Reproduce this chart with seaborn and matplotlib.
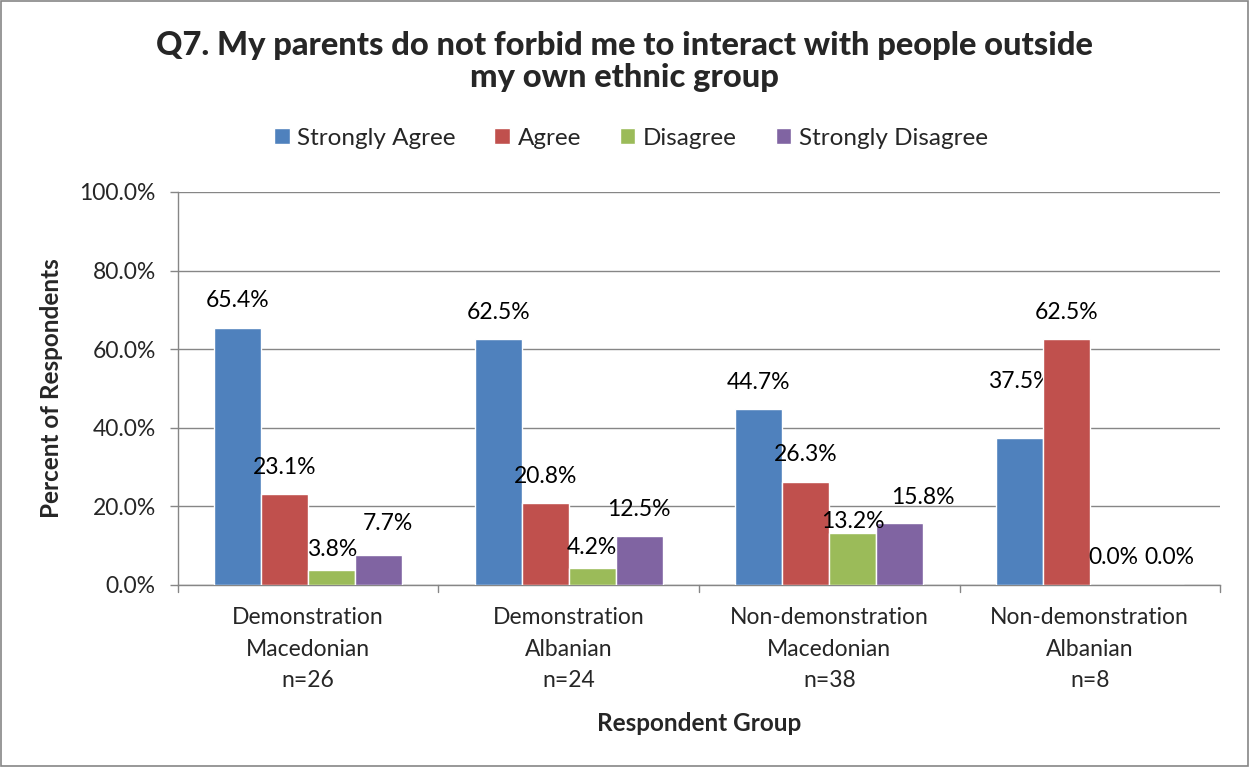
import matplotlib
matplotlib.use("Agg")
import matplotlib.pyplot as plt
import seaborn as sns
import pandas as pd
from matplotlib.patches import Rectangle

groups = ["Demonstration\nMacedonian\nn=26", "Demonstration\nAlbanian\nn=24",
          "Non-demonstration\nMacedonian\nn=38", "Non-demonstration\nAlbanian\nn=8"]
responses = ["Strongly Agree", "Agree", "Disagree", "Strongly Disagree"]
strongly_agree = [65.4, 62.5, 44.7, 37.5]
agree = [23.1, 20.8, 26.3, 62.5]
disagree = [3.8, 4.2, 13.2, 0.0]
strongly_disagree = [7.7, 12.5, 15.8, 0.0]
colors = ["#4F81BD", "#C0504D", "#9BBB59", "#8064A2"]

series = [strongly_agree, agree, disagree, strongly_disagree]
rows = []
for r, vals in zip(responses, series):
    for g, v in zip(groups, vals):
        rows.append({"Group": g, "Response": r, "Value": v})
df = pd.DataFrame(rows)

sns.set_theme(style="white")
plt.rcParams["font.family"] = ["Lato", "DejaVu Sans"]

fig = plt.figure(figsize=(12.49, 7.67), dpi=100)
ax = fig.add_axes([0.1425, 0.2373, 0.8343, 0.5124])

sns.barplot(data=df, x="Group", y="Value", hue="Response", order=groups,
            hue_order=responses, palette=colors, width=0.72, gap=0,
            saturation=1, ax=ax, legend=True, errorbar=None, zorder=3)

# label offsets in pixels (dx, dy above bar top)
adj = {(0, 2): (0, 21), (0, 3): (9, 31), (1, 2): (0, 21), (1, 3): (0, 26),
       (2, 2): (0, 12), (2, 3): (23, 25), (3, 0): (0, 56), (3, 3): (9, 27)}
for hi, cont in enumerate(ax.containers):
    for gi, bar in enumerate(cont):
        v = series[hi][gi]
        dx, dy = adj.get((gi, hi), (0, 27))
        z = 2.5 if (gi, hi) == (3, 0) else 5
        ax.annotate(f"{v:.1f}%", (bar.get_x() + bar.get_width() / 2, v),
                    xytext=(dx * 0.72, dy * 0.72), textcoords="offset points",
                    ha="center", va="center", fontsize=16.5, color="#000000", zorder=z)

ax.set_ylim(0, 100)
ax.set_xlim(-0.5, 3.5)
ax.set_yticks([0, 20, 40, 60, 80, 100])
ax.set_yticklabels([f"{t:.1f}%" for t in [0, 20, 40, 60, 80, 100]], fontsize=16.5)
ax.tick_params(axis="x", labelsize=16.5, length=0, pad=16)
ax.tick_params(axis="y", length=6, width=1, color="#868686", left=True, pad=10)
ax.set_xticks(range(4))
ax.set_xticklabels(groups, linespacing=1.62)
for xb in [-0.5, 0.5, 1.5, 2.5, 3.5]:
    ax.plot([xb, xb], [0, -1.8], color="#868686", lw=1, clip_on=False, zorder=4)
ax.grid(axis="y", color="#868686", lw=1, zorder=0)
for s in ["top", "right"]:
    ax.spines[s].set_visible(False)
for s in ["left", "bottom"]:
    ax.spines[s].set_color("#868686")
    ax.spines[s].set_linewidth(1)

ax.set_xlabel("Respondent Group", fontsize=17.5, fontweight="bold", labelpad=15)
ax.set_ylabel("Percent of Respondents", fontsize=17.5, fontweight="bold", labelpad=12)

ax.legend_.remove()
handles, labels = ax.get_legend_handles_labels()
fig.legend(handles, labels, loc="center", bbox_to_anchor=(0.505, 0.82), ncol=4, frameon=False,
           fontsize=17.5, handlelength=0.65, handleheight=0.65, handletextpad=0.3,
           columnspacing=1.6)

fig.text(0.5, 0.92, "Q7. My parents do not forbid me to interact with people outside\nmy own ethnic group",
         ha="center", va="center", fontsize=23.5, fontweight="black", linespacing=1.12)

fig.patches.append(Rectangle((0.0008, 0.0013), 0.9984, 0.9974, transform=fig.transFigure,
                             fill=False, edgecolor="#868686", lw=1.2))

fig.savefig("out.png", dpi=100, facecolor="white")
